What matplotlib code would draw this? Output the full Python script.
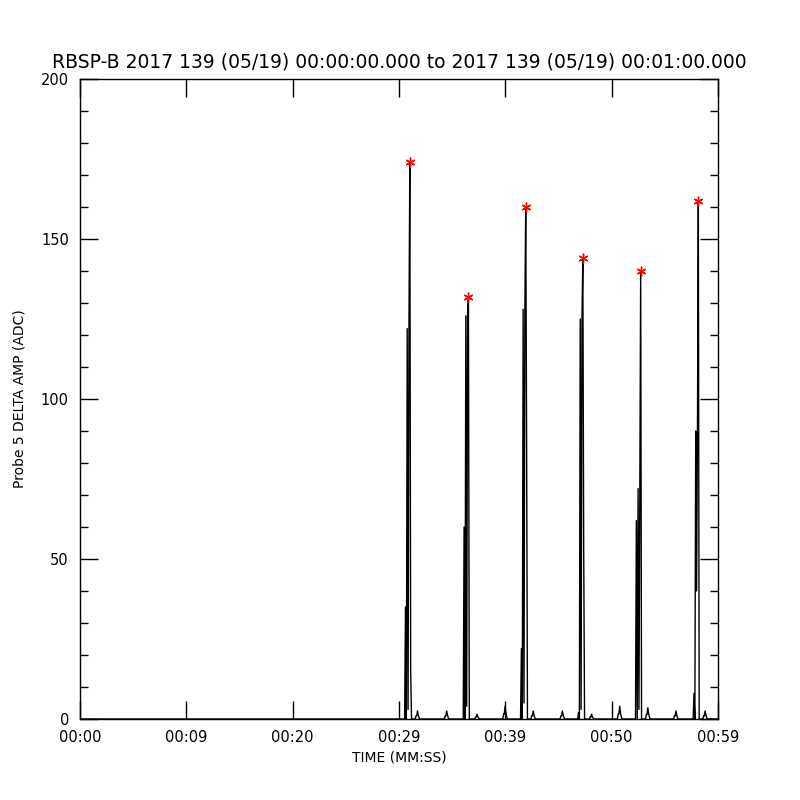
import numpy as np
import matplotlib
matplotlib.use('Agg')
import matplotlib.pyplot as plt
from matplotlib.ticker import MultipleLocator

# peak start times (s) and sample values, samples spaced by dt
dt = 0.08
peak_t0 = [30.02, 35.44, 40.74, 46.02, 51.37, 56.70]
peak_vals = [
    [0, 35, 0, 122, 3, 122, 174, 15, 0],
    [0, 60, 0, 126, 4, 126, 132, 0],
    [0, 22, 0, 128, 5, 128, 160, 87, 0],
    [0, 2, 0, 125, 3, 125, 144, 53, 0],
    [0, 62, 0, 72, 3, 72, 140, 0],
    [0, 8, 0, 90, 40, 90, 162, 0],
]
# small bumps near the baseline
bump_dt = 0.07
bump_t0 = [31.0, 33.7, 36.5, 39.1, 41.7, 44.4, 47.1, 49.7, 52.3, 54.9, 57.6]
bump_h = [2.5, 2.5, 1.5, 4.0, 2.5, 2.5, 1.5, 4.0, 3.5, 2.5, 2.5]
bump_shape = [0, 0.4, 0.4, 1, 0.5, 0.2, 0]

tick_pos = np.linspace(0, 59, 7)
tick_lab = ['00:00', '00:09', '00:20', '00:29', '00:39', '00:50', '00:59']

# assemble the trace
segs = [(0.0, dt, [0])]
for t0, v in zip(peak_t0, peak_vals):
    segs.append((t0, dt, v))
for t0, h in zip(bump_t0, bump_h):
    segs.append((t0, bump_dt, [s * h for s in bump_shape]))
segs.append((59.0, dt, [0]))
segs.sort(key=lambda s: s[0])
t, y = [], []
for t0, step, v in segs:
    for i, val in enumerate(v):
        t.append(t0 + i * step)
        y.append(val)
t = np.array(t)
y = np.array(y)

fig = plt.figure(figsize=(8, 8), dpi=100)
ax = fig.add_axes([0.1, 0.10125, 0.7975, 0.8])
ax.plot(t, y, color='black', lw=1)
pk_t = [t0 + dt * int(np.argmax(v)) for t0, v in zip(peak_t0, peak_vals)]
pk_v = [max(v) for v in peak_vals]
ax.plot(pk_t, pk_v, ls='none', marker=(6, 2, 0), ms=7, mec='red', mew=1.0)

ax.set_xlim(0, 59)
ax.set_ylim(0, 200)
ax.set_xticks(tick_pos)
ax.set_xticklabels(tick_lab)
ax.yaxis.set_major_locator(MultipleLocator(50))
ax.yaxis.set_minor_locator(MultipleLocator(10))
ax.tick_params(axis='both', which='major', direction='in', length=13, width=1,
               top=True, right=True, labelsize=10.5, pad=8)
ax.tick_params(axis='y', which='minor', direction='in', length=6, width=1, right=True)
for sp in ax.spines.values():
    sp.set_linewidth(1)
ax.set_title('RBSP-B 2017 139 (05/19) 00:00:00.000 to 2017 139 (05/19) 00:01:00.000',
             fontsize=13.5, pad=8)
ax.set_xlabel('TIME (MM:SS)', fontsize=10, labelpad=4)
ax.set_ylabel('Probe 5 DELTA AMP (ADC)', fontsize=10, labelpad=10)

fig.savefig('out.png', dpi=100)
